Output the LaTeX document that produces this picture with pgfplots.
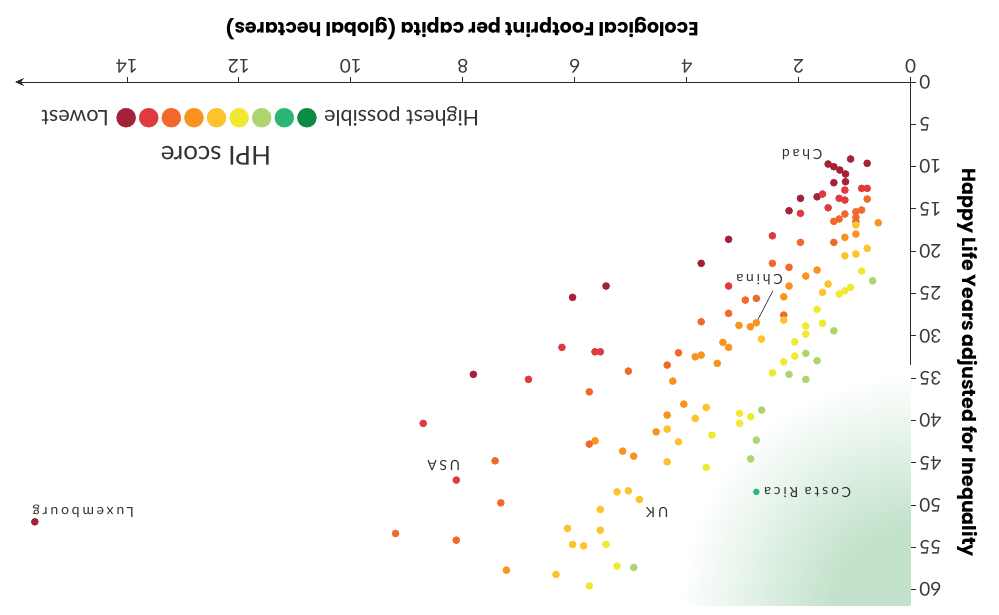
\documentclass[border=0pt]{standalone}
\usepackage{graphicx}
\usepackage{pgfplots}
\pgfplotsset{compat=1.18}
\usepackage{fontspec}
\setmainfont{Lato}
\newfontfamily\lblfont[LetterSpace=20]{Lato}
\newfontfamily\titlefont{Poppins}
\usetikzlibrary{arrows.meta}
\definecolor{c1}{HTML}{A3223A}
\definecolor{c2}{HTML}{DF3B3F}
\definecolor{c3}{HTML}{F0692B}
\definecolor{c4}{HTML}{F7931E}
\definecolor{c5}{HTML}{FCC32C}
\definecolor{c6}{HTML}{F1E833}
\definecolor{c7}{HTML}{AFD46F}
\definecolor{c8}{HTML}{2CB574}
\definecolor{c9}{HTML}{0F8A45}
\definecolor{axc}{HTML}{2A2A2A}
\definecolor{tkc}{HTML}{3A3A3A}
\definecolor{txtc}{HTML}{333333}
\definecolor{glowc}{HTML}{C2E2CB}
\pgfdeclareradialshading{glow}{\pgfpoint{0bp}{0bp}}{color(0bp)=(glowc); color(8bp)=(glowc); color(24bp)=(white); color(50bp)=(white)}
\tikzset{lbl/.style={font=\lblfont\fontsize{14}{14}\selectfont, text=txtc, inner sep=0pt}}
\begin{document}
\rotatebox{180}{%
\begin{tikzpicture}
\begin{axis}[
  name=ax,
  scale only axis, width=895.7pt, height=523pt,
  xmin=0, xmax=16, ymin=0, ymax=61.8,
  axis x line=bottom, axis y line=left,
  axis line style={line width=0.9pt, color=axc},
  x axis line style={-{Stealth[length=9pt,width=8pt]}},
  y axis line style={-},
  xtick={0,2,...,14}, ytick={0,5,...,60},
  tick align=outside, major tick length=5pt,
  tick style={line width=0.9pt, color=axc},
  /pgf/number format/assume math mode=true,
  ticklabel style={font=\fontsize{19}{19}\selectfont, text=tkc},
  xlabel={Ecological Footprint per capita (global hectares)},
  ylabel={Happy Life Years adjusted for Inequality},
  label style={font=\titlefont\bfseries\fontsize{19}{19}\selectfont, text=black},
  xlabel style={at={(axis description cs:0.501,-0.103)}, anchor=center},
  ylabel style={at={(axis description cs:-0.064,0.537)}, anchor=center},
  legend columns=10,
  legend style={draw=none, fill=none, inner sep=0pt, column sep=0pt,
    at={(0.9725,0.0683)}, anchor=east,
    nodes={inner sep=1.6pt, font=\fontsize{21.5}{21.5}\selectfont, text=txtc}},
]
\begin{scope}
\clip (axis cs:0,0) rectangle (axis cs:16,61.8);
\shade[shading=glow] (axis cs:0,61.8) circle [radius=240pt];
\end{scope}

% dark red
\addplot[only marks, mark=*, mark size=3.6pt, c1, forget plot] coordinates {
(1.074,9.10) (0.777,9.61) (1.475,9.69) (1.373,10.01) (1.266,10.40) (1.164,10.87)
(1.164,11.78) (1.373,11.90) (1.672,13.56) (1.969,13.75) (2.173,15.21) (3.253,18.59)
(3.742,21.43) (5.442,24.11) (6.040,25.45) (7.812,34.55) (15.646,51.97)};
% red
\addplot[only marks, mark=*, mark size=3.6pt, c2, forget plot] coordinates {
(1.176,12.77) (0.877,12.57) (0.777,12.57) (1.575,13.24) (1.278,13.75) (1.176,13.95)
(1.475,14.86) (1.969,15.52) (2.470,18.17) (3.253,24.11) (6.230,31.36) (5.639,31.88)
(5.544,31.88) (6.828,35.14) (8.708,40.34) (8.117,47.04)};
% orange-red
\addplot[only marks, mark=*, mark size=3.6pt, c3, forget plot] coordinates {
(0.777,13.83) (0.877,15.13) (0.979,15.33) (1.176,15.60) (0.979,15.99) (1.278,16.19)
(1.373,16.47) (0.979,16.51) (1.969,18.95) (1.373,18.95) (2.470,21.43) (2.173,21.90)
(2.954,25.77) (2.757,25.57) (3.253,27.34) (3.742,28.33) (2.268,27.54) (4.148,32.00)
(4.350,33.45) (5.043,34.16) (5.741,36.61) (5.741,42.79) (7.424,44.76) (7.322,49.73)
(9.202,53.35) (8.117,54.14)};
% orange
\addplot[only marks, mark=*, mark size=3.6pt, c4, forget plot] coordinates {
(0.580,16.63) (1.176,18.36) (0.979,17.97) (1.672,22.22) (1.874,22.93) (2.173,24.11)
(2.268,25.38) (3.068,28.76) (2.864,28.92) (2.757,28.45) (3.355,30.77) (3.253,31.36)
(3.742,32.27) (3.455,33.25) (3.849,32.47) (4.250,35.34) (4.053,38.06) (4.350,39.36)
(4.547,41.34) (5.639,42.40) (5.145,43.62) (4.948,44.21) (7.222,57.68)};
% yellow-orange
\addplot[only marks, mark=*, mark size=3.6pt, c5, forget plot] coordinates {
(0.979,16.90) (0.777,19.66) (1.176,20.53) (0.979,20.33) (1.475,23.88) (1.575,24.86)
(2.667,30.38) (2.268,28.13) (3.652,38.45) (3.849,39.75) (4.350,41.02) (4.148,42.52)
(4.350,44.88) (5.245,48.43) (5.043,48.31) (4.846,49.33) (5.544,50.51) (6.130,52.75)
(5.544,52.96) (6.040,54.65) (5.843,54.81) (6.337,58.19)};
% yellow
\addplot[only marks, mark=*, mark size=3.6pt, c6, forget plot] coordinates {
(0.877,22.34) (1.278,25.06) (1.176,24.67) (1.074,24.27) (1.672,26.87) (1.575,28.52)
(1.874,28.84) (1.874,29.79) (2.071,30.70) (2.268,33.06) (2.071,32.39) (2.470,34.36)
(3.056,39.16) (2.859,39.56) (3.056,40.34) (3.552,41.73) (3.652,45.54) (5.442,54.65)
(5.245,57.21) (5.741,59.54)};
% light green
\addplot[only marks, mark=*, mark size=3.6pt, c7, forget plot] coordinates {
(0.680,23.49) (1.373,29.40) (1.874,32.07) (1.672,32.94) (2.173,34.55) (1.874,35.14)
(2.662,38.77) (2.757,42.32) (2.859,44.53) (4.948,57.36)};
% green (Costa Rica)
\addplot[only marks, mark=*, mark size=3.0pt, c8, forget plot] coordinates {(2.757,48.43)};

\node[lbl] at (axis cs:1.94,8.63) {Chad};
\node[lbl] at (axis cs:2.70,23.40) {China};
\draw[txtc, line width=0.7pt] (axis cs:2.46,24.67) -- (axis cs:2.74,28.2);
\node[lbl] at (axis cs:8.34,45.37) {USA};
\node[lbl] at (axis cs:4.53,50.89) {UK};
\node[lbl] at (axis cs:14.78,50.79) {Luxembourg};
\node[lbl] at (axis cs:1.84,48.52) {Costa Rica};
\node[font=\fontsize{26}{26}\selectfont, text=txtc] at (axis cs:12.41,8.75) {HPI score};

\addlegendimage{empty legend}\addlegendentry{Highest possible\kern6pt}
\addlegendimage{legend image code/.code={\fill[c9] (0pt,0pt) circle (9.5pt);}}\addlegendentry{}
\addlegendimage{legend image code/.code={\fill[c8] (0pt,0pt) circle (9.5pt);}}\addlegendentry{}
\addlegendimage{legend image code/.code={\fill[c7] (0pt,0pt) circle (9.5pt);}}\addlegendentry{}
\addlegendimage{legend image code/.code={\fill[c6] (0pt,0pt) circle (9.5pt);}}\addlegendentry{}
\addlegendimage{legend image code/.code={\fill[c5] (0pt,0pt) circle (9.5pt);}}\addlegendentry{}
\addlegendimage{legend image code/.code={\fill[c4] (0pt,0pt) circle (9.5pt);}}\addlegendentry{}
\addlegendimage{legend image code/.code={\fill[c3] (0pt,0pt) circle (9.5pt);}}\addlegendentry{}
\addlegendimage{legend image code/.code={\fill[c2] (0pt,0pt) circle (9.5pt);}}\addlegendentry{}
\addlegendimage{legend image code/.code={\fill[c1] (0pt,0pt) circle (9.5pt);}}\addlegendentry{\kern6pt Lowest}
\end{axis}
\pgfresetboundingbox
\path (ax.south west) ++(-88.3pt,-82pt) rectangle ++(999pt,614pt);
\end{tikzpicture}}
\end{document}
